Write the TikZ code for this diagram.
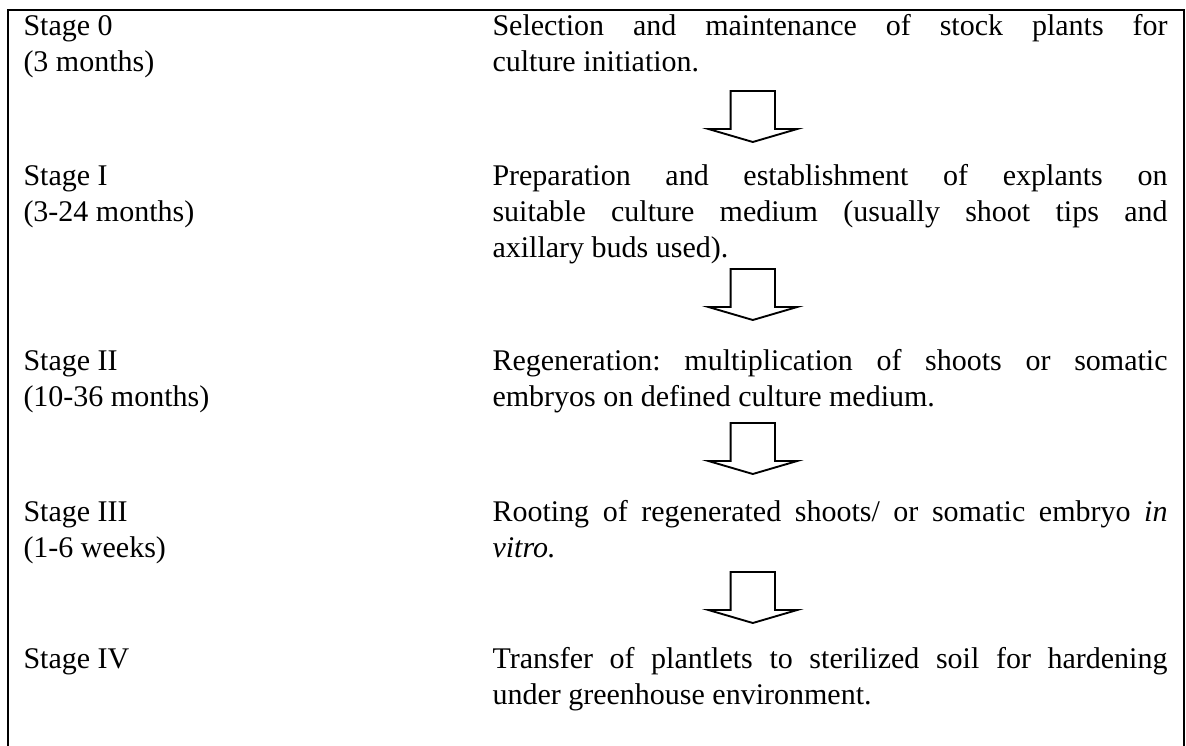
\documentclass[tikz,border=0pt]{standalone}
\usepackage{fontspec}
\setmainfont{Liberation Serif}
\frenchspacing
\begin{document}
\begin{tikzpicture}[x=0.4pt,y=-0.4pt,
  lab/.style={anchor=north west, inner sep=0pt, font=\fontsize{12}{14.4}\selectfont\frenchspacing, align=left},
  desc/.style={lab, text width=270pt, align=justify},
  border/.style={line width=0.9pt},
  blockarrow/.style={line width=0.75pt, line join=miter}]
\useasboundingbox (0,0) rectangle (1186,746);
\draw[border] (8,746) -- (8,10) -- (1184,10) -- (1184,746);
% rows (node top = first baseline - 25.2px)
\node[lab] (s0) at (23,9.8) {\strut Stage 0\\(3 months)};
\node[desc] (d0) at (492,9.8) {\strut Selection and maintenance of stock plants for\linebreak culture initiation.};
\node[lab] (s1) at (23,159.8) {\strut Stage I\\(3-24 months)};
\node[desc] (d1) at (492,159.8) {\strut Preparation and establishment of explants on\linebreak suitable culture medium (usually shoot tips and\linebreak axillary buds used).};
\node[lab] (s2) at (23,344.8) {\strut Stage II\\(10-36 months)};
\node[desc] (d2) at (492,344.8) {\strut Regeneration: multiplication of shoots or somatic\linebreak embryos on defined culture medium.};
\node[lab] (s3) at (23,495.8) {\strut Stage III\\(1-6 weeks)};
\node[desc] (d3) at (492,495.8) {\strut Rooting of regenerated shoots/ or somatic embryo \textit{in}\linebreak \textit{vitro.}};
\node[lab] (s4) at (23,642.8) {\strut Stage IV};
\node[desc] (d4) at (492,642.8) {\strut Transfer of plantlets to sterilized soil for hardening\linebreak under greenhouse environment.};
% block arrows
\coordinate (a1) at (752.8,91);
\coordinate (a2) at (752.8,269);
\coordinate (a3) at (752.8,423);
\coordinate (a4) at (752.8,572);
\foreach \a in {a1,a2,a3,a4}{
  \draw[blockarrow] (\a) ++(-22.2,0) -- ++(44.4,0) -- ++(0,38) -- ++(22.2,0)
    -- ++(-44.4,13) -- ++(-44.4,-13) -- ++(22.2,0) -- cycle;
}
\end{tikzpicture}
\end{document}
